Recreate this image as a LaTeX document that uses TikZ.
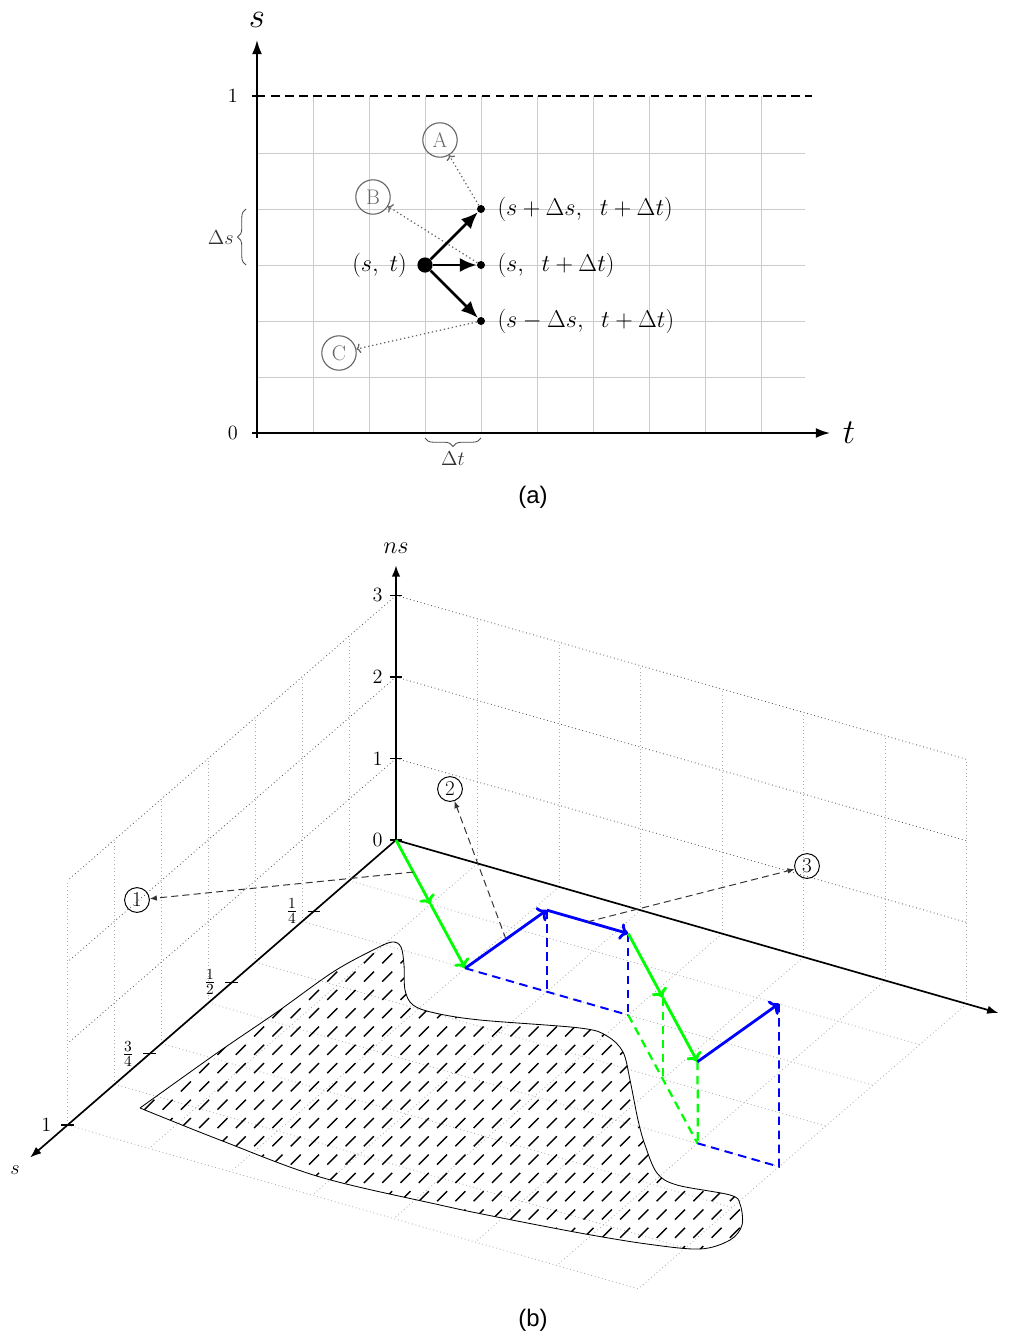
\documentclass[tikz,border=0pt]{standalone}
\usepackage{fontspec}
\setsansfont{Liberation Sans}
\usepackage{amsmath, amssymb}
\usepackage{xcolor}
\usetikzlibrary{arrows.meta, positioning, decorations.pathreplacing}
\newcommand{\blobpath}{plot[smooth, tension=0.55] coordinates {(140,1108) (217,1053) (277,1012) (333,972) (373,950) (392,942) (401,947) (404,965) (405,990) (413,1005) (435,1013) (480,1020) (580,1028) (607,1036) (623,1052) (630,1080) (638,1120) (645,1145) (657,1173) (677,1185) (730,1195) (740,1204) (742,1225) (730,1240) (700,1249) (647,1244) (580,1233) (497,1217) (440,1205) (320,1177) (220,1140) (140,1108)}}

\begin{document}
\begin{tikzpicture}[
  x=0.025cm, y=-0.025cm,
  num/.style    = {inner sep=0pt, font=\fontsize{15}{17}\selectfont},
  lbl/.style    = {inner sep=0pt, font=\fontsize{16}{18}\selectfont},
  biglbl/.style = {inner sep=0pt, font=\fontsize{23}{27}\selectfont},
  capt/.style   = {inner sep=0pt, font=\sffamily\fontsize{17}{20}\selectfont},
  axis/.style   = {line width=1.2pt, -{Latex[length=10pt, width=7pt]}},
  gridln/.style = {gray!40, line width=0.6pt},
  ptdot/.style  = {circle, fill, inner sep=0pt, minimum size=0.2cm},
  bigdot/.style = {circle, fill, inner sep=0pt, minimum size=0.38cm},
  mv/.style     = {line width=2pt, -{Latex[length=12pt, width=10pt]}},
  circ/.style   = {circle, draw=black!60, text=black!60, line width=0.8pt,
                   minimum size=0.86cm, inner sep=0pt, font=\fontsize{15}{17}\selectfont},
  hint/.style   = {black!60, dotted, line width=0.9pt, -{To[length=3pt, width=7pt]}},
  brc/.style    = {black!70, line width=0.6pt, decorate, decoration={brace, amplitude=6pt}},
  gridw/.style  = {black!65, dotted, line width=0.6pt},
  gridv/.style  = {gray!65, dotted, line width=0.6pt},
  axb/.style    = {line width=1.2pt, -{Latex[length=8pt, width=6pt]}},
  tk/.style     = {line width=0.8pt},
  grn/.style    = {green, line width=2pt, -{To[length=6pt, width=12pt]}},
  blu/.style    = {blue, line width=2pt, -{To[length=6pt, width=12pt]}},
  grnd/.style   = {green, line width=1.6pt, dash pattern=on 6pt off 4pt},
  blud/.style   = {blue, line width=1.4pt, dash pattern=on 6pt off 4pt},
  note/.style   = {black!80, line width=0.7pt, dash pattern=on 5pt off 3pt,
                   -{Latex[length=5pt, width=4pt]}},
  cnum/.style   = {circle, draw, line width=0.7pt, minimum size=0.62cm,
                   inner sep=0pt, font=\fontsize{15}{17}\selectfont},
  hatch/.style  = {line width=1pt},
]
\useasboundingbox (0,0) rectangle (1008,1335);

\foreach \x in {313,369,...,761} \draw[gridln] (\x,96) -- (\x,433);
\foreach \y in {153,209,...,377} \draw[gridln] (257,\y) -- (805,\y);
\coordinate (oa) at (257,433);
\coordinate (stip) at (257,40);
\coordinate (ttip) at (830,433);
\coordinate (top) at (257,96);
\coordinate (topend) at (812,96);
\draw[line width=1.1pt, dash pattern=on 6pt off 4pt] (top) -- (topend);
\draw[tk] (top) -- ++(-5,0);
\draw[tk] (oa) -- ++(-5,0) (oa) -- ++(0,5);
\draw[axis] (oa) -- (stip);
\draw[axis] (oa) -- (ttip);
\node[biglbl] (slbl) at (257,20) {$s$};
\node[biglbl] (tlbl) at (849,433) {$t$};
\node[num, anchor=east] (onelbl) at (238,96) {$1$};
\node[num, anchor=east] (zerolbl) at (238,433) {$0$};

\node[bigdot] (st) at (425,265) {};
\node[ptdot] (up) at (481,209) {};
\node[ptdot] (mid) at (481,265) {};
\node[ptdot] (down) at (481,321) {};
\node[circ] (A) at (440,140) {A};
\node[circ] (B) at (373,197) {B};
\node[circ] (C) at (339,353) {C};
\draw[hint] (up) -- (A);
\draw[hint] (mid) -- (B);
\draw[hint] (down) -- (C);
\draw[mv] (st) -- (up);
\draw[mv] (st) -- (mid);
\draw[mv] (st) -- (down);
\node[lbl, left=0.25cm of st] (stlbl) {$(s,\ t)$};
\node[lbl, right=0.3cm of up] (uplbl) {$(s+\Delta s,\ \ t+\Delta t)$};
\node[lbl, right=0.3cm of mid] (midlbl) {$(s,\ \ t+\Delta t)$};
\node[lbl, right=0.3cm of down] (downlbl) {$(s-\Delta s,\ \ t+\Delta t)$};

\coordinate (bs0) at (246,265);
\coordinate (bs1) at (246,209);
\draw[brc] (bs0) -- (bs1);
\node[num, anchor=east, text=black!80] (dslbl) at (234,238) {$\Delta s$};
\coordinate (bt0) at (481,438);
\coordinate (bt1) at (425,438);
\draw[brc] (bt0) -- (bt1);
\node[num, text=black!80] (dtlbl) at (453,459) {$\Delta t$};
\node[capt] (capa) at (533,497) {(a)};

\begin{scope}[shift={(396,840)}, x={(2.0375cm,-0.585cm)}, y={(0cm,2.0375cm)},
              z={(-1.1725cm,-1.0175cm)}]
  \foreach \i in {1,...,7} {
    \draw[gridv] (\i,0,0) -- (\i,3,0);
    \draw[gridv] (0,0,\i) -- (0,3,\i);
    \draw[gridv] (\i,0,0) -- (\i,0,7);
    \draw[gridv] (0,0,\i) -- (7,0,\i);
  }
  \foreach \n in {1,2,3} {
    \draw[gridw] (0,\n,0) -- (7,\n,0);
    \draw[gridw] (0,\n,0) -- (0,\n,7);
  }
  \coordinate (ob) at (0,0,0);
  \coordinate (ttipb) at (7.39,0,0);
  \coordinate (nstip) at (0,3.37,0);
  \coordinate (stipb) at (0,0,7.8);
  \foreach \n in {0,...,3} \coordinate (n\n) at (0,\n,0);
  \coordinate (s1) at (0,0,1.75);
  \coordinate (s2) at (0,0,3.5);
  \coordinate (s3) at (0,0,5.25);
  \coordinate (s4) at (0,0,7);
  \coordinate (p0) at (0,0,0);
  \coordinate (p1) at (1,0,1);
  \coordinate (p2) at (2,0,2);
  \coordinate (p3) at (3,1,2);
  \coordinate (p4) at (4,1,2);
  \coordinate (p5) at (5,1,3);
  \coordinate (p6) at (6,1,4);
  \coordinate (p7) at (7,2,4);
  \coordinate (q3) at (3,0,2);
  \coordinate (q4) at (4,0,2);
  \coordinate (q5) at (5,0,3);
  \coordinate (q6) at (6,0,4);
  \coordinate (q7) at (7,0,4);
  \coordinate (a1) at (0.5,0,0.5);
  \coordinate (a2) at (2.5,0.5,2);
  \coordinate (a3) at (3.5,1,2);
\end{scope}

\draw[line width=0.6pt] \blobpath;
\begin{scope}
  \clip \blobpath;
  \foreach \i in {0,...,34}
    \foreach \j in {0,...,17}
      \draw[hatch] ({131+18.3*\i},{940+18.3*\j}) ++(-5,5) -- ++(10,-10);
\end{scope}

\draw[axb] (ob) -- (ttipb);
\draw[axb] (ob) -- (nstip);
\draw[axb] (ob) -- (stipb);
\foreach \n in {0,...,3} {
  \draw[tk] ([xshift=-0.16cm]n\n) -- ([xshift=0.16cm]n\n);
  \node[num, anchor=east] (nl\n) at ([xshift=-0.33cm]n\n) {$\n$};
}
\foreach \k/\v in {1/{\frac{1}{4}}, 2/{\frac{1}{2}}, 3/{\frac{3}{4}}, 4/1} {
  \draw[tk] ([xshift=-0.16cm]s\k) -- ([xshift=0.16cm]s\k);
  \node[num, anchor=east] (sl\k) at ([xshift=-0.4cm]s\k) {$\v$};
}
\node[lbl] (nslbl) at (396,548) {$ns$};
\node[num] (slblb) at (15,1170) {$s$};

\draw[blud] (p2) -- (q3) -- (q4);
\draw[blud] (p3) -- (q3);
\draw[blud] (p4) -- (q4);
\draw[grnd] (q4) -- (q5) -- (q6);
\draw[grnd] (p5) -- (q5);
\draw[grnd] (p6) -- ([xshift=0.01cm]q6);
\draw[blud] (q6) -- (q7) -- (p7);

\draw[grn] (p0) -- (p1);
\draw[grn] (p1) -- (p2);
\draw[blu] (p2) -- (p3);
\draw[blu] (p3) -- (p4);
\draw[grn] (p4) -- (p5);
\draw[grn] (p5) -- (p6);
\draw[blu] (p6) -- (p7);

\node[cnum] (c1) at (137,900) {1};
\node[cnum] (c2) at (450,789) {2};
\node[cnum] (c3) at (807,866) {3};
\draw[note] (a1) -- (c1);
\draw[note] (a2) -- (c2);
\draw[note] (a3) -- (c3);
\node[capt] (capb) at (533,1320) {(b)};
\end{tikzpicture}
\end{document}
